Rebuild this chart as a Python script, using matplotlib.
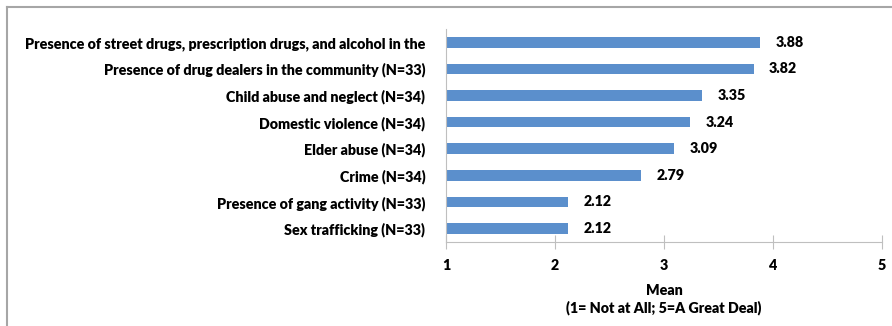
import matplotlib.pyplot as plt
from matplotlib.lines import Line2D

# Mittelwerte je Thema (von oben nach unten)
categories = [
    "Presence of street drugs, prescription drugs, and alcohol in the",
    "Presence of drug dealers in the community (N=33)",
    "Child abuse and neglect (N=34)",
    "Domestic violence (N=34)",
    "Elder abuse (N=34)",
    "Crime (N=34)",
    "Presence of gang activity (N=33)",
    "Sex trafficking (N=33)",
]
means = [3.88, 3.82, 3.35, 3.24, 3.09, 2.79, 2.12, 2.12]
x_ticks = [1, 2, 3, 4, 5]

plt.rcParams['font.family'] = ['Lato', 'DejaVu Sans']
fs = 10.3

fig = plt.figure(figsize=(8.92, 3.26), dpi=100)
ax = fig.add_axes([0.5, 0.258, 0.489, 0.653])

bar_color = '#5B8FCC'
pos = list(range(len(categories)))[::-1]
ax.barh(pos, [m - 1 for m in means], left=1, height=0.4, color=bar_color)

for p, m in zip(pos, means):
    ax.text(m + 0.14, p, f"{m:.2f}", va='center', ha='left',
            fontsize=fs, fontweight='heavy')

ax.set_xlim(1, 5)
ax.set_ylim(-0.5, len(categories) - 0.5)
ax.set_yticks(pos)
ax.set_yticklabels(categories, fontsize=fs, fontweight='heavy')
ax.set_xticks(x_ticks)
ax.set_xticklabels([str(t) for t in x_ticks], fontsize=fs, fontweight='heavy')
ax.tick_params(axis='y', length=0, pad=15)
ax.tick_params(axis='x', direction='inout', length=10, color='#bfbfbf', pad=7)

for s in ['top', 'right']:
    ax.spines[s].set_visible(False)
ax.spines['bottom'].set_color('#bfbfbf')
ax.spines['left'].set_color('#bfbfbf')

ax.set_xlabel("Mean\n(1= Not at All; 5=A Great Deal)", fontsize=fs,
              fontweight='heavy', labelpad=9, linespacing=1.3)

# Rahmen links und oben
fig.add_artist(Line2D([0.008, 0.008], [0, 0.978], color='#a6a6a6', lw=1.5,
                      transform=fig.transFigure))
fig.add_artist(Line2D([0.008, 1.0], [0.978, 0.978], color='#a6a6a6', lw=1.5,
                      transform=fig.transFigure))

fig.savefig('out.png', dpi=100, facecolor='white')
